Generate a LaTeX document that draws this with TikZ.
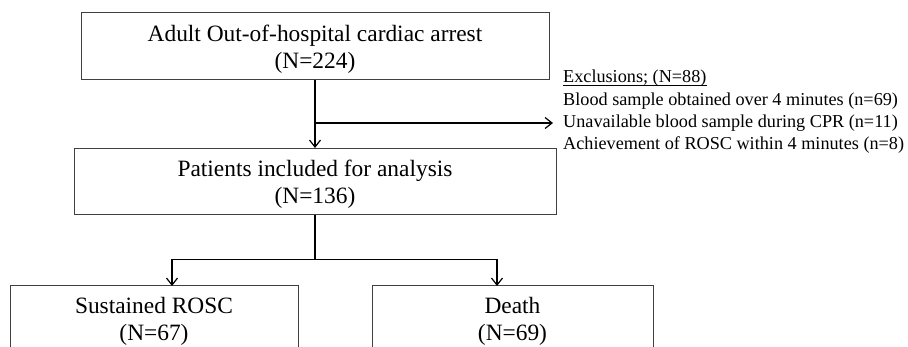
\documentclass[tikz,border=0pt]{standalone}
\usepackage{fontspec}
\setmainfont{Liberation Serif}
\usetikzlibrary{arrows.meta}
\begin{document}
\begin{tikzpicture}[x=1pt,y=-1pt,
  box/.style={draw=black!75, line width=1pt, align=center, inner sep=0pt,
    font=\fontsize{23.4}{27}\selectfont},
  link/.style={line width=1.4pt},
  arr/.style={link, -{Straight Barb[length=7pt,width=11pt,line width=1.2pt]}},
  excl/.style={anchor=base west, inner sep=0pt, font=\fontsize{18.2}{22}\selectfont}]
\useasboundingbox (0,0) rectangle (908,347);
\clip (0,0) rectangle (908,347);
\node[box, minimum width=468pt, minimum height=67pt, text depth=-2pt] (top) at (315,46.5)
  {Adult Out-of-hospital cardiac arrest\\(N=224)};
\node[box, minimum width=482pt, minimum height=66pt, text depth=-2pt] (mid) at (315,181.5)
  {Patients included for analysis\\(N=136)};
\node[box, minimum width=288pt, minimum height=70pt] (surv) at (154,321)
  {Sustained ROSC\\(N=67)};
\node[box, minimum width=281pt, minimum height=70pt] (death) at (512.5,321)
  {Death\\(N=69)};
\node[excl] (ex0) at (563,83) {Exclusions; (N=88)};
\node[excl] (ex1) at (563,106) {Blood sample obtained over 4 minutes (n=69)};
\node[excl] (ex2) at (563,128) {Unavailable blood sample during CPR (n=11)};
\node[excl] (ex3) at (563,150) {Achievement of ROSC within 4 minutes (n=8)};
\draw[line width=0.9pt] ([yshift=-2.5pt]ex0.base west) -- ([yshift=-2.5pt]ex0.base east);
\coordinate (junc) at (315,123);
\coordinate (extip) at (553,123);
\coordinate (split) at (315,259.5);
\coordinate (survin) at (172,286);
\coordinate (deathin) at (497,286);
\draw[arr] (top.south) -- (mid.north);
\draw[arr] (junc) -- (extip);
\draw[link] (mid.south) -- (split);
\draw[arr] (split) -| (survin);
\draw[arr] (split) -| (deathin);
\end{tikzpicture}
\end{document}
